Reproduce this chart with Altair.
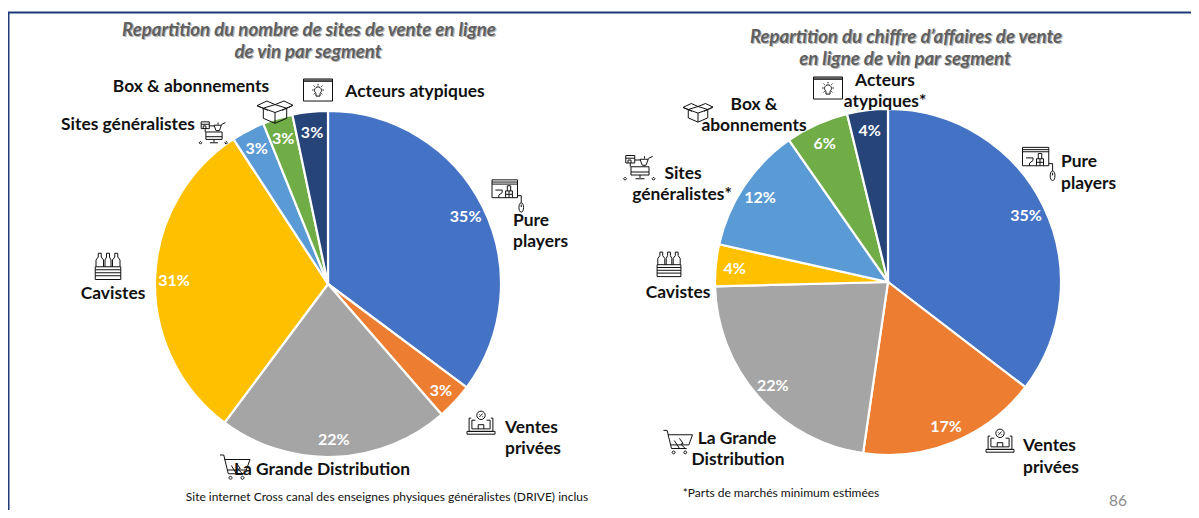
import altair as alt
import pandas as pd

segments = ["Pure players", "Ventes privées", "Grande Distribution", "Cavistes",
            "Sites généralistes", "Box & abonnements", "Acteurs atypiques"]
colors = ["#4472C4", "#ED7D31", "#A5A5A5", "#FFC000", "#5B9BD5", "#70AD47", "#264478"]
sites_share = [35.2, 3.4, 21.6, 30.6, 3.1, 2.8, 3.3]
revenue_share = [35.4, 16.9, 22.3, 3.9, 11.8, 5.9, 3.8]

FONT = "Lato"
LABEL_SIZE = 17.4
TITLE_SIZE = 18.6
NOTE_SIZE = 12

ICON = dict(
    bulb="M-1 -.76H1V.76H-1Z M-1 -.6H1 M-1 -.68H1 M-.14 .22A.24 .24 0 1 1 .14 .22V.42H-.14Z M0 -.42V-.32 M-.4 0H-.3 M.4 0H.3 M-.3 -.3L-.23 -.23 M.3 -.3L.23 -.23 M-.3 .3L-.23 .23 M.3 .3L.23 .23",
    box="M-.65 -.1L0 .14L.65 -.1V.46L0 .74L-.65 .46Z M0 .14V.74 M-.65 -.1L-1 -.24L-.45 -.5L0 -.3L.5 -.5L1 -.26L.65 -.1 M-.65 -.1L0 -.3L.65 -.1 M-1 -.24L-.4 .02 M1 -.26L.4 .02",
    store="M-1 -.95H.5V.1H-1Z M-1 -.82H.5 M-1 -.7H.5 M-.8 -.35H-.4V-.2L-.6 -.05V.1 M-.2 .1V-.3H.2V.1 M-.1 -.3V-.6H.1V-.3 M-.2 -.1H.2 M0 -.3V.1 M.5 -.02H.72V.4 M.72 .4C.9 .4 .9 .95 .72 .95C.54 .95 .54 .4 .72 .4Z M.72 .5V.65",
    crate="M-.85 .05H.85V.9H-.85Z M-.85 .25H.85 M-.85 .45H.85 M-.85 .65H.85 M-.8 .05V-.4L-.65 -.6V-.85H-.45V-.6L-.3 -.4V.05 M-.2 .05V-.4L-.1 -.6V-.85H.1V-.6L.2 -.4V.05 M.3 .05V-.4L.45 -.6V-.85H.65V-.6L.8 -.4V.05",
    cart="M-1 -.8H-.75L-.45 .45H.6 M-.7 -.5H1L.75 .2H-.5 M-.25 -.1L.1 .45 M.1 -.25L.35 .1L.2 .15L.5 .45 M-.4 .72A.1 .1 0 1 1 -.2 .72A.1 .1 0 1 1 -.4 .72 M.4 .72A.1 .1 0 1 1 .6 .72A.1 .1 0 1 1 .4 .72",
    laptop="M-.7 -.35H-.85V.6H.85V-.35H.7 M-.65 -.2H-.4 M.4 -.2H.65 M-.65 -.2V.42H.65V-.2 M-1 .6H1V.8H-1Z M-.3 -.55A.3 .3 0 1 1 .3 -.55A.3 .3 0 1 1 -.3 -.55 M-.12 -.42L.12 -.68 M-.12 -.65V-.6 M.12 -.47V-.42 M-.2 .42V.12H.2V.42",
    generalist="M-.95 -.9H-.35V-.4H-.95Z M-.95 -.72H-.35 M-.8 -.4V-.6H-.6V-.4 M-.35 -.6H0 M0 -.65H.55L.4 -.25H.15Z M.55 -.7L.85 -.85 M.3 -.85V-.7 M-.6 -.15H.6V.4H-.6Z M-.6 .2H.6 M0 .4V.6 M-.3 .65H.3 M-.65 -.4V-.15 M-1 .55L-.9 .65L-1 .75L-1.1 .65Z M.9 .55L1 .65L.9 .75L.8 .65Z",
)


def P(x):
    return x - 8


def make_pie(values, cx, cy):
    df = pd.DataFrame({"segment": segments, "value": values, "rank": range(len(segments)),
                       "label": [f"{round(v)}%" for v in values]})
    base = alt.Chart(df).encode(
        theta=alt.Theta("value:Q", stack=True),
        order=alt.Order("rank:Q"),
        x=alt.value(P(cx)),
        y=alt.value(P(cy)),
    )
    arc = base.mark_arc(radius=173, stroke="white", strokeWidth=2.2).encode(
        color=alt.Color("segment:N", scale=alt.Scale(domain=segments, range=colors), legend=None)
    )
    pct = base.mark_text(radius=154, dy=2, font=FONT, fontWeight="bold", fontSize=16, color="white").encode(
        text="label:N"
    )
    return alt.layer(arc, pct)


def one(x, y):
    return alt.Chart(pd.DataFrame({"a": [0]})).encode(x=alt.value(P(x)), y=alt.value(P(y)))


def label(text, x, y, size=LABEL_SIZE, align="center", weight="bold", color="#111111"):
    return one(x, y).mark_text(text=text, font=FONT, fontSize=size, fontWeight=weight,
                               align=align, baseline="middle", color=color)


def title(text, x, y):
    shadow = one(x + 1.2, y + 1.2).mark_text(text=text, font=FONT, fontSize=TITLE_SIZE, fontWeight="bold",
                                             fontStyle="italic", color="#b5b5b5", baseline="middle")
    front = one(x, y).mark_text(text=text, font=FONT, fontSize=TITLE_SIZE, fontWeight="bold",
                                fontStyle="italic", color="#5f5f5f", baseline="middle")
    return [shadow, front]


def icon(name, x, y, w):
    return one(x, y).mark_point(shape=ICON[name], size=w * w, filled=False, stroke="#111111",
                                strokeWidth=1, opacity=1)


frame_top = alt.Chart(pd.DataFrame({"a": [0]})).mark_rule(color="#1F3A78", strokeWidth=2).encode(
    x=alt.value(0), x2=alt.value(1183), y=alt.value(P(12.5)))
frame_left = alt.Chart(pd.DataFrame({"a": [0]})).mark_rule(color="#1F3A78", strokeWidth=3).encode(
    x=alt.value(0), y=alt.value(P(12)), y2=alt.value(502))

layers = [frame_top, frame_left, make_pie(sites_share, 328, 284), make_pie(revenue_share, 888, 282)]
layers += title("Repartition du nombre de sites de vente en ligne", 309, 30)
layers += title("de vin par segment", 308, 52)
layers += title("Repartition du chiffre d’affaires de vente", 906, 37)
layers += title("en ligne de vin par segment", 905, 59)
layers += [
    label("Box & abonnements", 191, 87),
    label("Acteurs atypiques", 415, 92),
    label("Sites généralistes", 128, 125),
    label("Pure", 513, 221, align="left"),
    label("players", 513, 242, align="left"),
    label("Cavistes", 113, 294),
    label("Ventes", 505, 428, align="left"),
    label("privées", 505, 449, align="left"),
    label("La Grande Distribution", 322, 470),
    label("Site internet Cross canal des enseignes physiques généralistes (DRIVE) inclus",
          387, 497, size=NOTE_SIZE, weight="normal"),
    icon("bulb", 318, 90, 29),
    icon("box", 275, 110, 36),
    icon("generalist", 214, 134, 27),
    icon("store", 509, 196, 34),
    icon("crate", 108, 266, 30),
    icon("cart", 235, 467, 30),
    icon("laptop", 481, 423, 28),
    label("Acteurs", 885, 81),
    label("atypiques*", 885, 102),
    label("Box &", 754, 105),
    label("abonnements", 754, 126),
    label("Sites", 683, 174),
    label("généralistes*", 682, 195),
    label("Pure", 1061, 162, align="left"),
    label("players", 1061, 184, align="left"),
    label("Cavistes", 678, 293),
    label("La Grande", 737, 439),
    label("Distribution", 738, 460),
    label("Ventes", 1023, 446, align="left"),
    label("privées", 1023, 468, align="left"),
    label("*Parts de marchés minimum estimées", 781, 493, size=NOTE_SIZE, weight="normal"),
    label("86", 1118, 501, size=15.5, weight="normal", color="#8c8c8c"),
    icon("bulb", 828, 88, 29),
    icon("box", 698, 111, 30),
    icon("generalist", 640, 169, 30),
    icon("store", 1040, 164, 35),
    icon("crate", 669, 264, 28),
    icon("cart", 678, 442, 29),
    icon("laptop", 1000, 441, 28),
]

chart = (
    alt.layer(*layers)
    .resolve_scale(theta="independent")
    .properties(width=1183, height=502, padding=0, background="white",
                autosize=alt.AutoSizeParams(type="none"))
    .configure_view(stroke=None)
)

chart.save("out.html", embed_options={"renderer": "svg", "actions": False})
